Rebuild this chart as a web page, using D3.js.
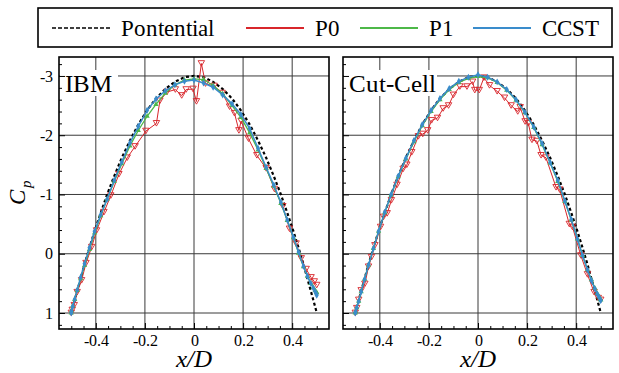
<!DOCTYPE html>
<html>
<head>
<meta charset="utf-8">
<script src="https://cdn.jsdelivr.net/npm/d3@7"></script>
<style>
  @font-face { font-family: "ChartSerif"; src: local("Liberation Serif"), local("LiberationSerif"), local("Times New Roman"); font-style: normal; }
  @font-face { font-family: "ChartSerif"; src: local("Liberation Serif Italic"), local("LiberationSerif-Italic"); font-style: italic; }
  body { margin: 0; background: #fff; }
</style>
</head>
<body>
<div id="chart"></div>
<script>
// tick labels
var xTicks = [-0.4, -0.2, 0, 0.2, 0.4];
var yTicks = [-3, -2, -1, 0, 1];

// surface points x/D (shared by potential, P1, CCST)
var xGrid = [-0.500, -0.499, -0.494, -0.486, -0.476, -0.462, -0.446, -0.426, -0.405, -0.380,
             -0.354, -0.325, -0.294, -0.261, -0.227, -0.191, -0.155, -0.117, -0.078, -0.039,
              0.000,  0.039,  0.078,  0.117,  0.155,  0.191,  0.227,  0.261,  0.294,  0.325,
              0.354,  0.380,  0.405,  0.426,  0.446,  0.462,  0.476,  0.486,  0.494,  0.499, 0.500];

var potential = [1.00, 0.98, 0.90, 0.78, 0.63, 0.42, 0.18, -0.10, -0.38, -0.69,
                -1.00, -1.31, -1.62, -1.91, -2.18, -2.42, -2.62, -2.78, -2.90, -2.98,
                -3.00, -2.98, -2.90, -2.78, -2.62, -2.42, -2.18, -1.91, -1.62, -1.31,
                -1.00, -0.69, -0.38, -0.10, 0.18, 0.42, 0.63, 0.78, 0.90, 0.98, 1.00];

// IBM panel
var ibmCCST = [1.00, 0.97, 0.89, 0.77, 0.61, 0.40, 0.17, -0.10, -0.38, -0.66,
              -0.92, -1.24, -1.55, -1.87, -2.15, -2.42, -2.61, -2.75, -2.85, -2.91,
              -2.93, -2.88, -2.81, -2.68, -2.53, -2.35, -2.11, -1.78, -1.46, -1.16,
              -0.87, -0.57, -0.28, -0.03, 0.21, 0.38, 0.50, 0.58, 0.64, 0.68, 0.70];

var ibmP1 = [1.00, 0.96, 0.88, 0.77, 0.62, 0.42, 0.20, -0.07, -0.35, -0.64,
            -0.92, -1.22, -1.52, -1.82, -2.08, -2.32, -2.52, -2.71, -2.85, -2.93,
            -2.95, -2.94, -2.84, -2.70, -2.50, -2.30, -2.04, -1.75, -1.44, -1.14,
            -0.85, -0.56, -0.27, -0.01, 0.22, 0.38, 0.50, 0.57, 0.62, 0.65, 0.66];

var ibmP0 = [[-0.500, 1.00], [-0.496, 0.95], [-0.488, 0.87], [-0.476, 0.65], [-0.458, 0.45],
             [-0.440, 0.16], [-0.417, -0.11], [-0.397, -0.39], [-0.367, -0.70], [-0.339, -0.98],
             [-0.306, -1.34], [-0.272, -1.62], [-0.240, -1.81], [-0.196, -2.07], [-0.153, -2.20],
             [-0.139, -2.58], [-0.110, -2.73], [-0.076, -2.77], [-0.050, -2.67], [-0.032, -2.77],
             [-0.004, -2.78], [0.010, -2.57], [0.030, -3.21], [0.047, -2.87], [0.082, -2.83],
             [0.115, -2.71], [0.145, -2.48], [0.165, -2.37], [0.183, -2.08], [0.192, -2.24],
             [0.222, -1.94], [0.256, -1.66], [0.294, -1.44], [0.328, -1.09], [0.362, -0.80],
             [0.389, -0.42], [0.416, -0.17], [0.437, 0.08], [0.457, 0.26], [0.477, 0.40],
             [0.490, 0.47], [0.500, 0.53]];

// Cut-Cell panel
var cutCCST = [1.00, 0.98, 0.91, 0.80, 0.64, 0.43, 0.19, -0.09, -0.38, -0.70,
              -1.00, -1.31, -1.61, -1.91, -2.18, -2.42, -2.62, -2.79, -2.91, -2.98,
              -3.02, -2.98, -2.90, -2.77, -2.60, -2.39, -2.14, -1.86, -1.54, -1.24,
              -0.89, -0.58, -0.25, 0.03, 0.27, 0.45, 0.59, 0.68, 0.74, 0.78, 0.79];

var cutP1 = [1.00, 0.98, 0.91, 0.80, 0.64, 0.43, 0.19, -0.09, -0.38, -0.69,
            -0.99, -1.30, -1.60, -1.89, -2.16, -2.40, -2.60, -2.77, -2.89, -2.96,
            -2.99, -2.97, -2.89, -2.76, -2.59, -2.38, -2.13, -1.84, -1.53, -1.22,
            -0.88, -0.57, -0.25, 0.03, 0.27, 0.44, 0.58, 0.67, 0.73, 0.77, 0.78];

var cutP0 = [[-0.500, 1.00], [-0.494, 0.92], [-0.486, 0.78], [-0.476, 0.62], [-0.461, 0.51],
             [-0.446, 0.22], [-0.434, 0.06], [-0.420, -0.14], [-0.397, -0.45], [-0.385, -0.62],
             [-0.370, -0.68], [-0.353, -0.90], [-0.330, -1.16], [-0.305, -1.43], [-0.290, -1.50],
             [-0.270, -1.71], [-0.243, -1.98], [-0.225, -2.02], [-0.205, -2.08], [-0.189, -2.25],
             [-0.165, -2.29], [-0.142, -2.45], [-0.120, -2.50], [-0.100, -2.68], [-0.074, -2.82],
             [-0.045, -2.82], [-0.022, -2.90], [-0.013, -2.76], [0.005, -2.76], [0.024, -2.97],
             [0.047, -2.84], [0.078, -2.74], [0.108, -2.63], [0.135, -2.50], [0.162, -2.40],
             [0.172, -2.47], [0.192, -2.23], [0.205, -2.20], [0.220, -1.92], [0.240, -1.90],
             [0.257, -1.66], [0.277, -1.62], [0.318, -1.12], [0.333, -1.08], [0.372, -0.50],
             [0.385, -0.45], [0.419, 0.03], [0.446, 0.35], [0.473, 0.65], [0.490, 0.75],
             [0.500, 0.78]];

var red = "#d8262b", green = "#4db848", blue = "#3a8ccb";
var serif = "ChartSerif, Liberation Serif, serif";

var svg = d3.select("#chart").append("svg")
    .attr("width", 619)
    .attr("height", 373)
    .attr("font-family", serif);

// shared vertical scale (Cp axis reversed: -3 at top)
var plotTop = 57, plotBottom = 329;
var yScale = d3.scaleLinear().domain([-3.32, 1.27]).range([plotTop, plotBottom]);

var zip = function (arr) { return xGrid.map(function (v, i) { return [v, arr[i]]; }); };

var panels = [
    { label: "IBM", boxW: 58, left: 59, right: 329, p0: ibmP0, p1: zip(ibmP1), ccst: zip(ibmCCST), yLabels: true },
    { label: "Cut-Cell", boxW: 93, left: 343, right: 613, p0: cutP0, p1: zip(cutP1), ccst: zip(cutCCST), yLabels: false }
];

var yMinor = d3.range(-16, 7).map(function (i) { return i * 0.2; })
    .filter(function (v) { return Math.abs(v - Math.round(v)) > 1e-6; });
var xMinor = d3.range(-10, 11).map(function (i) { return i * 0.05; })
    .filter(function (v) { return Math.abs(v / 0.2 - Math.round(v / 0.2)) > 1e-6; });

panels.forEach(function (p) {
    var xScale = d3.scaleLinear().domain([-0.55, 0.55]).range([p.left, p.right]);
    var g = svg.append("g");

    // grid lines
    g.append("g").selectAll("line")
        .data(xTicks).enter().append("line")
        .attr("x1", d => xScale(d)).attr("x2", d => xScale(d))
        .attr("y1", plotTop).attr("y2", plotBottom)
        .attr("stroke", "#3a3a3a").attr("stroke-width", 1);
    g.append("g").selectAll("line")
        .data(yTicks).enter().append("line")
        .attr("x1", p.left).attr("x2", p.right)
        .attr("y1", d => yScale(d)).attr("y2", d => yScale(d))
        .attr("stroke", "#3a3a3a").attr("stroke-width", 1);

    // white box behind panel label
    g.append("rect")
        .attr("x", p.left + 1).attr("y", 70)
        .attr("width", p.boxW).attr("height", 26)
        .attr("fill", "#fff");

    var line = d3.line()
        .x(d => xScale(d[0]))
        .y(d => yScale(d[1]));

    // potential flow (dashed)
    g.append("path")
        .datum(zip(potential))
        .attr("d", line)
        .attr("fill", "none")
        .attr("stroke", "#000")
        .attr("stroke-width", 2.2)
        .attr("stroke-dasharray", "3,2.5");

    // P0
    g.append("path").datum(p.p0).attr("d", line)
        .attr("fill", "none").attr("stroke", red).attr("stroke-width", 1);
    g.append("g").selectAll("path")
        .data(p.p0).enter().append("path")
        .attr("d", d3.symbol(d3.symbolTriangle, 18))
        .attr("transform", d => `translate(${xScale(d[0])},${yScale(d[1]) - 1}) rotate(180)`)
        .attr("fill", "none").attr("stroke", red).attr("stroke-width", 0.9);

    // P1
    g.append("path").datum(p.p1).attr("d", line)
        .attr("fill", "none").attr("stroke", green).attr("stroke-width", 1.3);
    g.append("g").selectAll("path")
        .data(p.p1).enter().append("path")
        .attr("d", d3.symbol(d3.symbolTriangle, 12))
        .attr("transform", d => `translate(${xScale(d[0])},${yScale(d[1])})`)
        .attr("fill", green);

    // CCST
    g.append("path").datum(p.ccst).attr("d", line)
        .attr("fill", "none").attr("stroke", blue).attr("stroke-width", 1.5);
    g.append("g").selectAll("path")
        .data(p.ccst).enter().append("path")
        .attr("d", d3.symbol(d3.symbolDiamond, 14))
        .attr("transform", d => `translate(${xScale(d[0])},${yScale(d[1])})`)
        .attr("fill", blue);

    // left axis, ticks pointing inward
    g.append("g")
        .attr("transform", `translate(${p.left},0)`)
        .call(d3.axisLeft(yScale).tickValues(yTicks).tickSizeInner(-6).tickSizeOuter(0)
            .tickPadding(6).tickFormat(p.yLabels ? d => String(d) : ""));
    g.append("g")
        .attr("transform", `translate(${p.left},0)`)
        .call(d3.axisLeft(yScale).tickValues(yMinor).tickSizeInner(-3).tickSizeOuter(0).tickFormat(""));

    // bottom axis
    g.append("g")
        .attr("transform", `translate(0,${plotBottom})`)
        .call(d3.axisBottom(xScale).tickValues(xTicks).tickSizeInner(-6).tickSizeOuter(0)
            .tickPadding(6).tickFormat(d => String(d)));
    g.append("g")
        .attr("transform", `translate(0,${plotBottom})`)
        .call(d3.axisBottom(xScale).tickValues(xMinor).tickSizeInner(-3).tickSizeOuter(0).tickFormat(""));

    g.selectAll(".domain").remove();
    // drop the sans-serif family that d3.axis puts on its groups
    g.selectAll("g").attr("font-family", null).attr("font-size", null);
    g.selectAll(".tick text")
        .attr("font-family", serif)
        .attr("font-size", 16)
        .attr("fill", "#000");
    g.selectAll(".tick line").attr("stroke", "#000");

    // frame
    g.append("rect")
        .attr("x", p.left).attr("y", plotTop)
        .attr("width", p.right - p.left).attr("height", plotBottom - plotTop)
        .attr("fill", "none").attr("stroke", "#000").attr("stroke-width", 1.6);

    // panel label
    svg.append("text")
        .attr("x", p.left + 6).attr("y", 92)
        .attr("font-family", serif)
        .attr("font-size", 25)
        .text(p.label);

    // x label
    svg.append("text")
        .attr("x", xScale(0)).attr("y", 367)
        .attr("text-anchor", "middle")
        .attr("font-family", serif)
        .attr("font-style", "italic")
        .attr("font-size", 25)
        .text("x/D");
});

// y label C_p, rotated
var cp = svg.append("g")
    .attr("transform", "translate(25,194) rotate(-90)");
cp.append("text")
    .attr("x", -3).attr("y", 0)
    .attr("text-anchor", "middle")
    .attr("font-family", serif)
    .attr("font-style", "italic")
    .attr("font-size", 23)
    .text("C");
cp.append("text")
    .attr("x", 6).attr("y", 6)
    .attr("font-family", serif)
    .attr("font-style", "italic")
    .attr("font-size", 15)
    .text("p");

// legend
var legendItems = [
    { name: "Pontential", color: "#000", dash: "4,2", width: 1.6, x: 52 },
    { name: "P0", color: red, dash: null, width: 2, x: 246 },
    { name: "P1", color: green, dash: null, width: 2, x: 360 },
    { name: "CCST", color: blue, dash: null, width: 2, x: 473 }
];

svg.append("rect")
    .attr("x", 38).attr("y", 8).attr("width", 574).attr("height", 39)
    .attr("fill", "#fff").attr("stroke", "#000").attr("stroke-width", 1.6);

legendItems.forEach(function (d) {
    svg.append("line")
        .attr("x1", d.x).attr("x2", d.x + 58)
        .attr("y1", 28).attr("y2", 28)
        .attr("stroke", d.color)
        .attr("stroke-width", d.width)
        .attr("stroke-dasharray", d.dash);
    svg.append("text")
        .attr("x", d.x + 69).attr("y", 36)
        .attr("font-family", serif)
        .attr("font-size", 23)
        .text(d.name);
});
</script>
</body>
</html>
